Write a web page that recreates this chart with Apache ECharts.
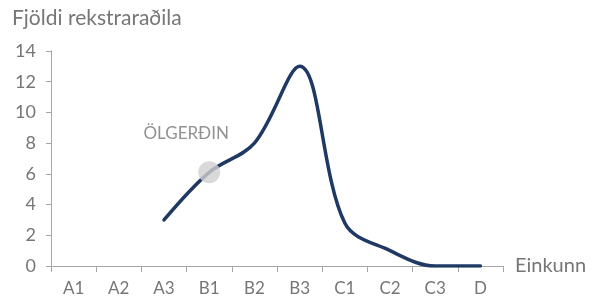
<!DOCTYPE html>
<html>
<head>
<meta charset="utf-8">
<script src="https://cdn.jsdelivr.net/npm/echarts@6/dist/echarts.min.js"></script>
<style>
html,body{margin:0;padding:0;background:#fff;}
#chart{width:596px;height:301px;}
</style>
</head>
<body>
<div id="chart"></div>
<script>
// einkunnir
var categories = ['A1','A2','A3','B1','B2','B3','C1','C2','C3','D'];
var counts = [null, null, 3, 6.1, 8, 13, 2.8, 1, 0, 0];
var yTicks = [0, 2, 4, 6, 8, 10, 12, 14];
var markName = 'B1';
var markText = 'ÖLGERÐIN';

var GRAY = '#767676';
var AXIS = '#a6a6a6';
var LINE = '#1f3864';

function renderChart(){
	var myChart = echarts.init(document.getElementById('chart'), null, {renderer:'canvas'});
	var markIdx = categories.indexOf(markName);
	myChart.setOption({
		animation: false,
		title: {
			text: 'Fjöldi rekstraraðila',
			left: 7,
			top: 3,
			textStyle: {color: GRAY, fontFamily: 'Lato', fontSize: 21, fontWeight: 'normal'}
		},
		grid: {left: 51, right: 93, top: 51, bottom: 35},
		xAxis: {
			type: 'category',
			data: categories,
			boundaryGap: true,
			name: 'Einkunn',
			nameLocation: 'end',
			nameGap: 12,
			nameTextStyle: {color: GRAY, fontFamily: 'Lato', fontSize: 20, verticalAlign: 'middle'},
			axisLine: {lineStyle: {color: AXIS, width: 1}},
			axisTick: {show: true, length: 6, alignWithLabel: false, lineStyle: {color: AXIS}},
			axisLabel: {color: GRAY, fontFamily: 'Lato', fontSize: 17, margin: 14}
		},
		yAxis: {
			type: 'value',
			min: yTicks[0],
			max: yTicks[yTicks.length-1],
			interval: 2,
			axisLine: {show: true, lineStyle: {color: AXIS, width: 1}},
			axisTick: {show: true, length: 5, lineStyle: {color: AXIS}},
			axisLabel: {color: GRAY, fontFamily: 'Lato', fontSize: 18, margin: 15},
			splitLine: {show: false}
		},
		series: [
			{
				type: 'line',
				data: counts,
				smooth: 0.35,
				symbol: 'none',
				lineStyle: {color: LINE, width: 3.5, cap: 'round'},
				z: 2
			},
			{
				type: 'scatter',
				data: [[markIdx, counts[markIdx]]],
				symbol: 'circle',
				symbolSize: 22,
				itemStyle: {color: '#d0d0d0'},
				label: {
					show: true,
					formatter: markText,
					position: 'top',
					offset: [-23, -14],
					color: GRAY,
					fontFamily: 'Lato',
					fontSize: 17
				},
				z: 3
			}
		]
	});
}

renderChart();
</script>
</body>
</html>
